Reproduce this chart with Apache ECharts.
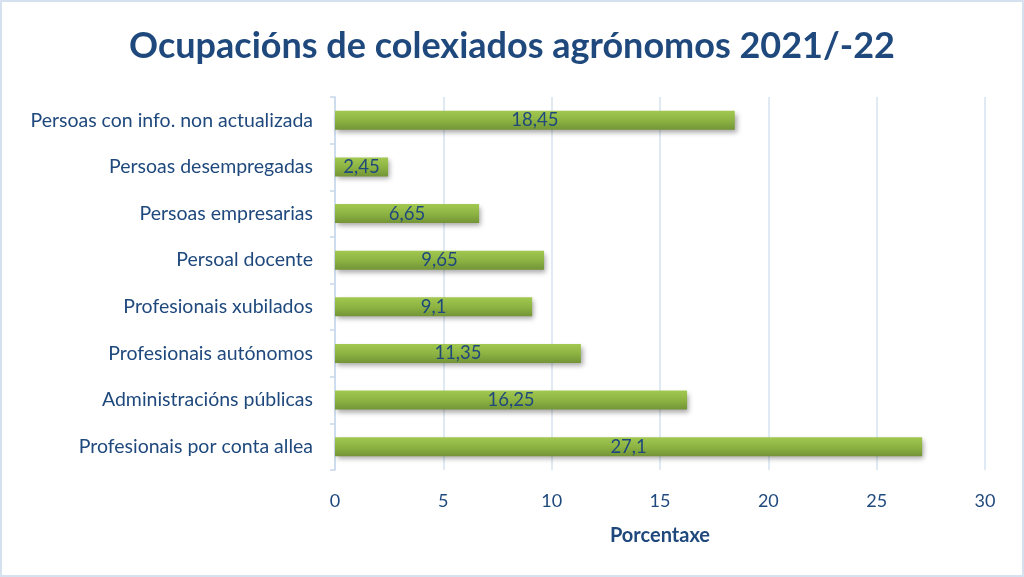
<!DOCTYPE html>
<html>
<head>
<meta charset="utf-8">
<script src="https://cdn.jsdelivr.net/npm/echarts@6/dist/echarts.min.js"></script>
<style>
  html, body { margin: 0; padding: 0; background: #fff; }
  #chart { width: 1024px; height: 577px; }
</style>
</head>
<body>
<div id="chart"></div>
<script>
// bottom to top, as echarts draws category axes
const categories = [
  "Profesionais por conta allea",
  "Administracións públicas",
  "Profesionais autónomos",
  "Profesionais xubilados",
  "Persoal docente",
  "Persoas empresarias",
  "Persoas desempregadas",
  "Persoas con info. non actualizada"
];
const values = [27.1, 16.25, 11.35, 9.1, 9.65, 6.65, 2.45, 18.45];
const xTicks = [0, 5, 10, 15, 20, 25, 30];

const textColor = "#1F497D";
const font = "Lato";

const myChart = echarts.init(document.getElementById("chart"));

const options = {
  animation: false,
  title: {
    text: "Ocupacións de colexiados agrónomos 2021/-22",
    left: "center",
    top: 23,
    textStyle: { color: textColor, fontFamily: font, fontWeight: "bold", fontSize: 36 }
  },
  graphic: [
    {
      type: "rect",
      shape: { x: 1, y: 1, width: 1022, height: 575 },
      style: { fill: "none", stroke: "#D5E1EF", lineWidth: 2 },
      silent: true
    }
  ],
  grid: { left: 335, right: 39, top: 97, bottom: 107, containLabel: false },
  xAxis: {
    type: "value",
    min: xTicks[0],
    max: xTicks[xTicks.length - 1],
    interval: 5,
    name: "Porcentaxe",
    nameLocation: "middle",
    nameGap: 56,
    nameTextStyle: { color: textColor, fontFamily: font, fontWeight: "bold", fontSize: 20 },
    axisLine: { show: false },
    axisTick: { show: false },
    axisLabel: { color: textColor, fontFamily: font, fontSize: 18, margin: 22 },
    splitLine: { show: true, lineStyle: { color: "#D6E3F1", width: 1.5 } }
  },
  yAxis: {
    type: "category",
    data: categories,
    axisLine: { show: true, lineStyle: { color: "#C9D8EC", width: 1.5 } },
    axisTick: { show: true, length: 5, lineStyle: { color: "#C9D8EC", width: 1.5 } },
    axisLabel: { color: textColor, fontFamily: font, fontSize: 19.5, margin: 22 }
  },
  series: [
    {
      type: "bar",
      data: values,
      barWidth: 19,
      itemStyle: {
        color: new echarts.graphic.LinearGradient(0, 0, 0, 1, [
          { offset: 0, color: "#A2C850" },
          { offset: 0.5, color: "#8DB443" },
          { offset: 1, color: "#739436" }
        ]),
        shadowColor: "rgba(0,0,0,0.35)",
        shadowBlur: 5,
        shadowOffsetX: 2,
        shadowOffsetY: 3
      },
      label: {
        show: true,
        position: "inside",
        color: textColor,
        fontFamily: font,
        fontSize: 18.5,
        formatter: (p) => String(p.value).replace(".", ",")
      }
    }
  ]
};

myChart.setOption(options);
</script>
</body>
</html>
